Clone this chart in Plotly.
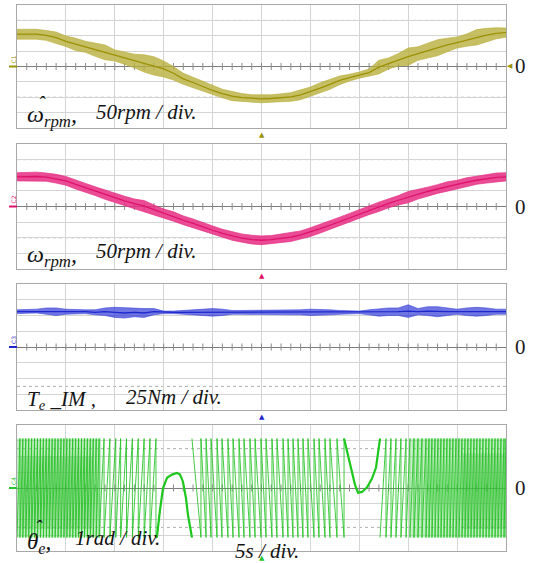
import math
import plotly.graph_objects as go

W, H = 534, 563

# ---------------- data ----------------
t_sec = list(range(51))  # 5 s/div, 10 div

# panel 1: estimated speed (rpm), centre of the noisy trace and half band width
omega_hat_rpm = [105, 106, 105, 101, 94, 82, 72, 64, 55, 46,
                 36, 28, 18, 10, 2, -8, -22, -40, -52, -65,
                 -78, -88, -96, -101, -104, -105, -104, -102, -99, -92,
                 -82, -70, -58, -45, -36, -28, -20, -2, 10, 22,
                 32, 42, 52, 61, 70, 78, 86, 95, 102, 108, 110]
omega_hat_band = [16, 16, 16, 16, 18, 17, 20, 18, 22, 24,
                  18, 20, 22, 28, 30, 26, 22, 18, 17, 16,
                  15, 14, 15, 13, 12, 13, 12, 13, 14, 16,
                  15, 17, 16, 14, 11, 10, 12, 22, 18, 20,
                  28, 22, 24, 26, 22, 18, 20, 25, 22, 18, 15]

# panel 2: measured speed (rpm)
omega_rpm = [95, 96, 96, 94, 89, 82, 71, 60, 49, 38,
             27, 18, 9, 1, -10, -22, -32, -44, -54, -66,
             -76, -86, -94, -101, -106, -108, -106, -102, -98, -91,
             -82, -71, -60, -48, -36, -24, -12, -1, 10, 20,
             30, 39, 48, 56, 64, 70, 78, 84, 89, 93, 95]
omega_band = [13, 14, 14, 13, 14, 14, 15, 14, 14, 15,
              14, 15, 15, 18, 15, 14, 15, 14, 14, 14,
              14, 13, 14, 13, 14, 14, 13, 14, 14, 13,
              14, 14, 13, 14, 14, 15, 14, 15, 14, 15,
              18, 15, 14, 14, 15, 14, 14, 13, 14, 14, 13]

# panel 3: electromagnetic torque (Nm)
te_nm = [56, 56, 57, 57, 56, 56, 56, 56, 55, 56,
         55, 54, 55, 54, 56, 55, 55, 55, 55, 55,
         55, 55, 55, 55, 55, 55, 55, 55, 55, 55,
         55, 55, 55, 55, 55, 55, 55, 55, 56, 56,
         57, 56, 57, 56, 56, 56, 56, 56, 56, 56, 56]
te_band = [3, 3, 3, 5, 6, 4, 3, 3, 4, 6,
           8, 8, 7, 7, 5, 2, 2, 3, 3, 5,
           6, 5, 3, 3, 3, 3, 3, 3, 3, 4,
           5, 5, 4, 3, 2, 2, 4, 6, 6, 6,
           10, 5, 7, 8, 6, 4, 6, 7, 6, 4, 4]

# panel 4: estimated electrical angle (rad) -- sawtooth wrap instants (s)
theta_rise1_wraps = [0.0, 0.3, 0.6, 0.9, 1.2, 1.5, 1.8, 2.1, 2.4, 2.7,
                     3.0, 3.3, 3.6, 3.9, 4.2, 4.5, 4.8, 5.1, 5.4, 5.7,
                     6.0, 6.3, 6.6, 6.9, 7.2, 7.5, 7.8, 8.1, 8.4, 8.9,
                     9.5, 10.1, 10.6, 11.2, 11.8, 12.4, 13.0, 13.6, 14.21]
theta_hump1_t = [14.21, 14.31, 14.62, 14.93, 15.34, 15.85, 16.36, 16.67, 16.97, 17.28, 17.48, 17.89]
theta_hump1_rad = [-3.14, -3.1, -1.4, 0.0, 0.65, 0.85, 0.95, 0.85, 0.4, -0.65, -1.7, -3.14]
theta_fall_wraps = [17.89, 18.81, 19.33, 19.84, 20.45, 20.96, 21.57, 22.09, 22.70, 23.21,
                    23.82, 24.34, 24.95, 25.46, 26.07, 26.58, 27.20, 27.71, 28.22, 28.73,
                    29.24, 29.75, 30.37, 30.88, 31.49, 32.00, 32.72, 33.44]
theta_hump2_t = [33.44, 34.05, 34.56, 34.87, 35.28, 35.79, 36.30, 36.71, 37.12]
theta_hump2_rad = [3.14, 1.5, 0.2, -0.3, -0.25, 0.05, 0.6, 1.3, 3.14]
theta_rise2_wraps = [37.12, 37.73, 38.24, 38.75, 39.26, 39.78, 40.18, 40.59, 41.0, 41.41,
                     41.82, 42.13, 42.43, 42.74, 43.05, 43.35, 43.66, 43.97, 44.27, 44.58,
                     44.89, 45.19, 45.5, 45.81, 46.11, 46.42, 46.73, 47.03, 47.34, 47.65,
                     47.96, 48.26, 48.57, 48.88, 49.18, 49.49, 49.8, 50.0]
theta_dense_spans = [(0.0, 8.6), (40.3, 50.0)]
theta_dark_spans = [(0.3, 7.7, -2.6, 2.0), (45.5, 50.0, -2.6, 2.2)]

# ---------------- layout helpers ----------------
X0, X1 = 17, 506
panels = [  # top, bottom pixel rows, units/div scale, cursor lines (div)
    dict(top=5, bot=128, scale=50, cursors=[3, -2]),
    dict(top=144, bot=269, scale=50, cursors=[3, -2]),
    dict(top=284, bot=410, scale=25, cursors=[-2.5]),
    dict(top=425, bot=551, scale=1, cursors=[2.5, -2.5]),
]
colors = ["rgb(155,145,5)", "rgb(222,18,108)", "rgb(30,40,205)", "rgb(40,195,40)"]
bands = ["rgba(185,175,60,0.8)", "rgba(230,45,130,0.85)", "rgba(50,60,215,0.7)", None]

fig = go.Figure()
layout = dict(width=W, height=H, margin=dict(l=0, r=0, t=0, b=0),
              paper_bgcolor="white", plot_bgcolor="white", showlegend=False)
shapes, annotations = [], []

GRID = "rgb(212,212,212)"
BORDER = "rgb(168,168,168)"

for i, p in enumerate(panels):
    k = "" if i == 0 else str(i + 1)
    s = p["scale"]
    xd = ("x" + k + " domain") if k else "x domain"
    yd = ("y" + k + " domain") if k else "y domain"
    layout["xaxis" + k] = dict(domain=[X0 / W, X1 / W], range=[0, 50], dtick=5,
                               showgrid=True, gridcolor=GRID, gridwidth=1,
                               showline=True, mirror=True, linecolor=BORDER, linewidth=1,
                               zeroline=False, showticklabels=False, ticks="",
                               anchor="y" + k, fixedrange=True)
    layout["yaxis" + k] = dict(domain=[1 - p["bot"] / H, 1 - p["top"] / H],
                               range=[-4 * s, 4 * s], dtick=s,
                               showgrid=True, gridcolor=GRID, gridwidth=1,
                               showline=True, mirror=True, linecolor=BORDER, linewidth=1,
                               zeroline=True, zerolinecolor="rgb(125,125,125)", zerolinewidth=1,
                               showticklabels=False, ticks="", anchor="x" + k, fixedrange=True)
    shapes.append(dict(type="line", xref=xd, yref=yd, x0=0.5, x1=0.5, y0=0, y1=1,
                       line=dict(color="rgb(150,150,150)", width=1), layer="below"))
    for c in p["cursors"]:
        yy = (c + 4) / 8
        shapes.append(dict(type="line", xref=xd, yref=yd, x0=0, x1=1, y0=yy, y1=yy,
                           line=dict(color="rgb(175,175,175)", width=1, dash="dot"), layer="below"))
    fig.add_trace(go.Scatter(x=[j for j in range(1, 50)], y=[0] * 49, mode="markers",
                             marker=dict(symbol="line-ns", size=5,
                                         line=dict(color="rgb(140,140,140)", width=1)),
                             xaxis="x" + k, yaxis="y" + k, hoverinfo="skip"))
    zy = (p["top"] + p["bot"]) / 2
    annotations.append(dict(text="0", x=520 / W, y=1 - zy / H, xref="paper", yref="paper",
                            showarrow=False, xanchor="center", yanchor="middle",
                            font=dict(family="Liberation Serif", size=21, color="rgb(30,30,30)")))
    annotations.append(dict(text="C%d" % (i + 1), x=13 / W, y=1 - (zy - 7) / H, xref="paper", yref="paper",
                            showarrow=False, textangle=-90, xanchor="center", yanchor="middle",
                            font=dict(family="DejaVu Sans", size=6, color=colors[i])))
    shapes.append(dict(type="line", xref="paper", yref="paper", x0=9 / W, x1=17 / W,
                       y0=1 - zy / H, y1=1 - zy / H, line=dict(color=colors[i], width=2)))
    annotations.append(dict(text="▲", x=262 / W, y=1 - (p["bot"] + 7) / H, xref="paper", yref="paper",
                            showarrow=False, xanchor="center", yanchor="middle",
                            font=dict(family="DejaVu Sans", size=7, color=colors[i])))

annotations.append(dict(text="◀", x=510 / W, y=1 - 66.5 / H, xref="paper", yref="paper",
                        showarrow=False, xanchor="center", yanchor="middle",
                        font=dict(family="DejaVu Sans", size=7, color=colors[0])))


def band_traces(center, half, band_color, line_color, k):
    up = [c + h for c, h in zip(center, half)]
    lo = [c - h for c, h in zip(center, half)]
    fig.add_trace(go.Scatter(x=t_sec, y=up, mode="lines", line=dict(width=0.8, color=band_color),
                             xaxis="x" + k, yaxis="y" + k, hoverinfo="skip"))
    fig.add_trace(go.Scatter(x=t_sec, y=lo, mode="lines", line=dict(width=0.8, color=band_color),
                             fill="tonexty", fillcolor=band_color,
                             xaxis="x" + k, yaxis="y" + k, hoverinfo="skip"))
    fig.add_trace(go.Scatter(x=t_sec, y=center, mode="lines", line=dict(width=1.3, color=line_color),
                             xaxis="x" + k, yaxis="y" + k, hoverinfo="skip"))


band_traces(omega_hat_rpm, omega_hat_band, bands[0], colors[0], "")
band_traces(omega_rpm, omega_band, bands[1], colors[1], "2")
band_traces(te_nm, te_band, bands[2], colors[2], "3")

# ---- theta panel ----
PI = math.pi
for a, b in theta_dense_spans:
    fig.add_trace(go.Scatter(x=[a, b, b, a, a], y=[-PI, -PI, PI, PI, -PI], mode="lines",
                             fill="toself", fillcolor="rgba(120,215,120,0.45)",
                             line=dict(width=0), xaxis="x4", yaxis="y4", hoverinfo="skip"))
for a, b, lo, hi in theta_dark_spans:
    fig.add_trace(go.Scatter(x=[a, b, b, a, a], y=[lo, lo, hi, hi, lo], mode="lines",
                             fill="toself", fillcolor="rgba(60,170,60,0.22)",
                             line=dict(width=0), xaxis="x4", yaxis="y4", hoverinfo="skip"))


def saw(wraps, rising):
    lo, hi = (-PI, PI) if rising else (PI, -PI)
    xs, ys = [wraps[0]], [lo]
    for w in wraps[1:]:
        xs += [w, w]
        ys += [hi, lo]
    return xs, ys


for xs, ys in [saw(theta_rise1_wraps, True), (theta_hump1_t, theta_hump1_rad),
               saw(theta_fall_wraps, False), (theta_hump2_t, theta_hump2_rad),
               saw(theta_rise2_wraps, True)]:
    fig.add_trace(go.Scatter(x=xs, y=ys, mode="lines",
                             line=dict(width=1, color="rgba(35,195,35,0.85)"),
                             xaxis="x4", yaxis="y4", hoverinfo="skip"))
for xs, ys in [(theta_hump1_t, theta_hump1_rad), (theta_hump2_t, theta_hump2_rad)]:
    fig.add_trace(go.Scatter(x=xs, y=ys, mode="lines",
                             line=dict(width=2.2, color="rgb(30,200,30)"),
                             xaxis="x4", yaxis="y4", hoverinfo="skip"))

# ---- labels ----
SERIF = "Liberation Serif"


def label(text, px, py, size=21, anchor="left"):
    annotations.append(dict(text=text, x=px / W, y=1 - py / H, xref="paper", yref="paper",
                            showarrow=False, xanchor=anchor, yanchor="middle",
                            font=dict(family=SERIF, size=size, color="rgb(20,20,20)")))


label("<i>ω</i><sub><i>rpm</i></sub><i>,</i>", 25, 116, size=24)
label("<i>ˆ</i>", 42, 104, size=20, anchor="center")
label("<i>50rpm / div.</i>", 94, 112)
label("<i>ω</i><sub><i>rpm</i></sub><i>,</i>", 25, 256, size=24)
label("<i>50rpm / div.</i>", 94, 251)
label("<i>T</i><sub><i>e</i></sub><i> _IM ,</i>", 25, 400)
label("<i>25Nm / div.</i>", 124, 397)
label("<i>θ</i><sub><i>e</i></sub><i>,</i>", 25, 543, size=23)
label("<i>ˆ</i>", 39, 528, size=20, anchor="center")
label("<i>1rad / div.</i>", 73, 538)
label("<i>5s / div.</i>", 233, 551, size=21)

layout["shapes"] = shapes
layout["annotations"] = annotations
fig.update_layout(**layout)
fig.write_html("out.html", config={"displayModeBar": False},
               post_script="document.body.style.margin='0';document.body.style.overflow='hidden';")
